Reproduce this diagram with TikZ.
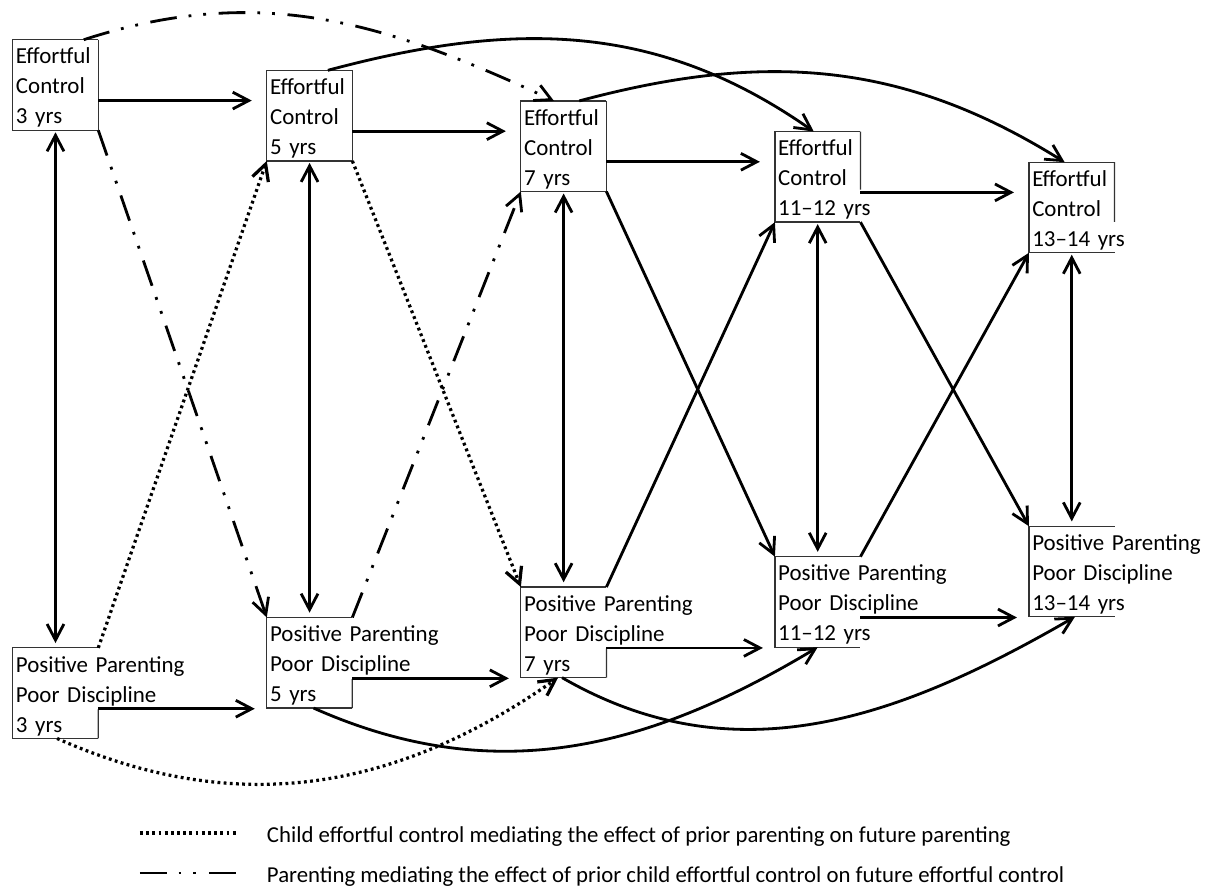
\documentclass[tikz,border=0pt]{standalone}
\usepackage{fontspec}
\setmainfont{Carlito}
\usepackage{tikz}
\usetikzlibrary{positioning,calc,arrows.meta}
\tikzset{stage node/.style={inner xsep=0.075cm,inner ysep=0pt,text width=1.975cm,text height=0.6cm,text depth=1.65cm,align=left,font=\fontsize{16.3}{21.3}\selectfont}}
\tikzset{box line/.style={line width=0.9pt,black!80}}
\tikzset{link/.style={->,line width=2pt}}
\tikzset{child line/.style={line width=2.3pt,dash pattern=on 2pt off 2.4pt}}
\tikzset{parent line/.style={line width=2pt,dash pattern=on 19pt off 8.5pt on 2pt off 8.5pt on 2pt off 9pt}}

\begin{document}
\begin{tikzpicture}[x=0.025cm,y=0.025cm,on grid,>={Straight Barb[length=0.4cm,width=0.42cm]}]
      \useasboundingbox (0,0) rectangle (1205,-886);
      % effortful control
      \node[stage node] (ec3) at (55.5,-85) {Effortful\\Control\\3 yrs};
      \node[stage node] (ec5) [below right = 0.765cm and 6.35cm of ec3] {Effortful\\Control\\5 yrs};
      \node[stage node] (ec7) [below right = 0.765cm and 6.35cm of ec5] {Effortful\\Control\\7 yrs};
      \node[stage node] (ec11) [below right = 0.765cm and 6.35cm of ec7] {Effortful\\Control\\\mbox{11–12 yrs}};
      \node[stage node] (ec13) [below right = 0.765cm and 6.35cm of ec11] {Effortful\\Control\\\mbox{13–14 yrs}};
      % parenting
      \node[stage node] (pp3) [below = 15.2cm of ec3] {\mbox{Positive Parenting}\\\mbox{Poor Discipline}\\3 yrs};
      \node[stage node] (pp5) [above right = 0.76cm and 6.35cm of pp3] {\mbox{Positive Parenting}\\\mbox{Poor Discipline}\\5 yrs};
      \node[stage node] (pp7) [above right = 0.76cm and 6.35cm of pp5] {\mbox{Positive Parenting}\\\mbox{Poor Discipline}\\7 yrs};
      \node[stage node] (pp11) [above right = 0.76cm and 6.35cm of pp7] {\mbox{Positive Parenting}\\\mbox{Poor Discipline}\\\mbox{11–12 yrs}};
      \node[stage node] (pp13) [above right = 0.76cm and 6.35cm of pp11] {\mbox{Positive Parenting}\\\mbox{Poor Discipline}\\\mbox{13–14 yrs}};
      % box outlines
      \foreach \n in {ec3,ec5,ec7,ec11,ec13,pp3,pp5,pp7,pp11,pp13}
        \draw[box line] (\n.north east) -- (\n.north west) -- (\n.south west) -- (\n.south east);
      \foreach \n/\a/\b in {ec3/0/1,ec5/0/1,ec7/0/1,ec11/0/0.64,ec13/0/0.66,pp3/0.68/1,pp5/0.68/1,pp7/0.68/1}
        \draw[box line] ($(\n.north east)!\a!(\n.south east)$) -- ($(\n.north east)!\b!(\n.south east)$);
      % stability paths
      \foreach \a/\b in {ec3/ec5,ec5/ec7,ec7/ec11,ec11/ec13}
        \draw[link,shorten >=0.375cm] (\a.-20) -- (\a.-20 -| \b.west);
      \foreach \a/\b in {pp3/pp5,pp5/pp7,pp7/pp11,pp11/pp13}
        \draw[link,shorten >=0.3cm] (\a.-20) -- (\a.-20 -| \b.west);
      % within-time links
      \foreach \n in {3,5,7,11,13}
        \draw[<->,line width=2pt,shorten <=0.05cm,shorten >=0.12cm] (ec\n) -- (pp\n);
      % cross-lagged paths
      \draw[link,parent line] (ec3.south east) -- (pp5.north west);
      \draw[link,child line] (pp3.north east) -- (ec5.south west);
      \draw[link,child line] (ec5.south east) -- (pp7.north west);
      \draw[link,parent line] (pp5.north east) -- (ec7.south west);
      \draw[link] (ec7.south east) -- (pp11.north west);
      \draw[link] (pp7.north east) -- (ec11.south west);
      \draw[link] (ec11.south east) -- (pp13.north west);
      \draw[link] (pp11.north east) -- (ec13.south west);
      % longer lags
      \draw[link,parent line] (ec3.58) to[out=18,in=155] (ec7.102);
      \draw[link] (ec5.68) to[out=15,in=145] (ec11.95);
      \draw[link] (ec7.71) to[out=15,in=148] (ec13.99);
      \draw[link,child line] (pp3.-88) to[out=-24,in=-145] (pp7.-97);
      \draw[link] (pp5.-85) to[out=-24,in=-149] (pp11.-90);
      \draw[link] (pp7.-92) to[out=-30,in=-150] (pp13.-86);
      % key
      \node[anchor=base west,font=\fontsize{16.2}{18}\selectfont] (key1) at (262,-842) {Child effortful control mediating the effect of prior parenting on future parenting};
      \node[anchor=base west,font=\fontsize{16.2}{18}\selectfont] (key2) at (262,-882) {Parenting mediating the effect of prior child effortful control on future effortful control};
      \draw[child line] ([xshift=-3.05cm,yshift=0.225cm]key1.base west) -- ([xshift=-0.6cm,yshift=0.225cm]key1.base west);
      \draw[parent line] ([xshift=-3.05cm,yshift=0.225cm]key2.base west) -- ([xshift=-0.55cm,yshift=0.225cm]key2.base west);
    \end{tikzpicture}
\end{document}
